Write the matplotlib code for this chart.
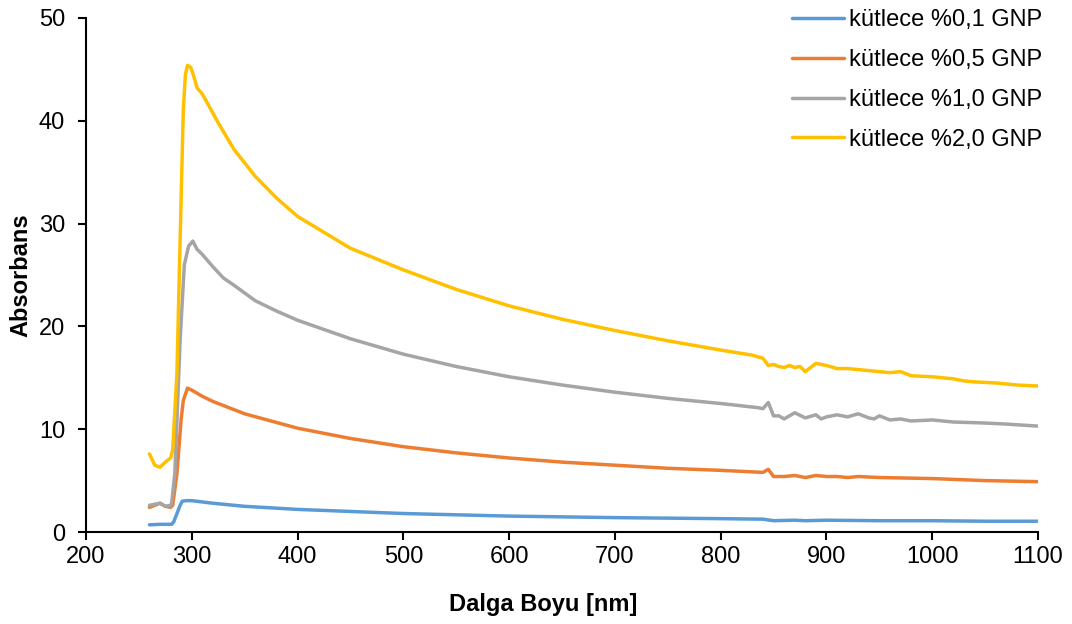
import matplotlib
matplotlib.use("Agg")
import matplotlib.pyplot as plt

plt.rcParams["font.family"] = ["Liberation Sans", "DejaVu Sans"]

# ── data (wavelength nm, absorbance) ──
x_01 = [260, 270, 281, 283, 286, 289, 291, 295, 300, 320, 350, 400, 500, 600, 700, 800, 840,
        850, 870, 880, 900, 950, 1000, 1050, 1100]
y_01 = [0.7, 0.75, 0.75, 1.0, 1.8, 2.6, 3.0, 3.05, 3.05, 2.8, 2.5, 2.2, 1.8, 1.55, 1.4, 1.3, 1.25,
        1.1, 1.15, 1.1, 1.15, 1.1, 1.1, 1.05, 1.05]

x_05 = [260, 265, 270, 275, 280, 282, 286, 290, 292, 296, 300, 305, 310, 320, 350, 400, 450,
        500, 550, 600, 650, 700, 750, 800, 840, 845, 850, 860, 870, 880, 890, 900, 910,
        920, 930, 950, 1000, 1050, 1100]
y_05 = [2.4, 2.6, 2.8, 2.5, 2.4, 2.6, 5.7, 11.0, 12.8, 14.0, 13.8, 13.5, 13.2, 12.7, 11.5, 10.1, 9.1,
        8.3, 7.7, 7.2, 6.8, 6.5, 6.2, 6.0, 5.8, 6.1, 5.4, 5.4, 5.5, 5.3, 5.5, 5.4, 5.4,
        5.3, 5.4, 5.3, 5.2, 5.0, 4.9]

x_10 = [260, 265, 270, 275, 280, 281, 284, 289, 293, 297, 301, 305, 310, 320, 330, 340,
        360, 380, 400, 450, 500, 550, 600, 650, 700, 750, 800, 835, 840, 845, 850, 855,
        860, 865, 870, 880, 890, 895, 900, 910, 920, 930, 940, 945, 950, 960, 970, 980,
        1000, 1020, 1050, 1070, 1100]
y_10 = [2.6, 2.7, 2.8, 2.5, 2.6, 2.8, 5.7, 18.7, 26.0, 27.8, 28.3, 27.5, 27.0, 25.8, 24.7, 24.0,
        22.5, 21.5, 20.6, 18.8, 17.3, 16.1, 15.1, 14.3, 13.6, 13.0, 12.5, 12.1, 12.0, 12.6, 11.3, 11.3,
        11.0, 11.3, 11.6, 11.1, 11.4, 11.0, 11.2, 11.4, 11.2, 11.5, 11.1, 11.0, 11.3, 10.9, 11.0, 10.8,
        10.9, 10.7, 10.6, 10.5, 10.3]

x_20 = [260, 265, 270, 275, 280, 282, 286, 289, 292, 294, 296, 299, 302, 305, 310, 317, 325,
        340, 360, 380, 400, 450, 500, 550, 600, 650, 700, 750, 800, 830, 840, 845, 850, 855,
        860, 865, 870, 875, 880, 885, 890, 900, 910, 920, 940, 960, 970, 980, 1000, 1020,
        1030, 1040, 1060, 1080, 1100]
y_20 = [7.6, 6.5, 6.3, 6.8, 7.2, 8.0, 15.5, 28.4, 41.0, 44.5, 45.4, 45.2, 44.3, 43.2, 42.6, 41.3, 39.8,
        37.2, 34.6, 32.5, 30.7, 27.6, 25.5, 23.6, 22.0, 20.7, 19.6, 18.6, 17.7, 17.2, 16.9, 16.2, 16.3, 16.1,
        16.0, 16.2, 16.0, 16.1, 15.6, 16.0, 16.4, 16.2, 15.9, 15.9, 15.7, 15.5, 15.6, 15.2, 15.1, 14.9,
        14.7, 14.6, 14.5, 14.3, 14.2]

labels = ["kütlece %0,1 GNP", "kütlece %0,5 GNP", "kütlece %1,0 GNP", "kütlece %2,0 GNP"]
colors = ["#5B9BD5", "#ED7D31", "#A5A5A5", "#FFC000"]

fig = plt.figure(figsize=(10.72, 6.24), dpi=100)
ax = fig.add_axes([0.0802, 0.1474, 0.9683 - 0.0802, 0.9712 - 0.1474])

for xs, ys, lab, c in zip([x_01, x_05, x_10, x_20], [y_01, y_05, y_10, y_20], labels, colors):
    ax.plot(xs, ys, color=c, lw=2.5, label=lab, solid_capstyle="round", solid_joinstyle="round")

ax.set_xlim(200, 1100)
ax.set_ylim(0, 50)
ax.set_xticks(range(200, 1101, 100))
ax.set_yticks(range(0, 51, 10))
ax.tick_params(labelsize=17, width=1.5, length=6, color="black")
ax.tick_params(axis="y", pad=9)
ax.tick_params(axis="x", pad=4)
for side in ["top", "right"]:
    ax.spines[side].set_visible(False)
for side in ["left", "bottom"]:
    ax.spines[side].set_linewidth(1.5)

ax.set_xlabel("Dalga Boyu [nm]", fontsize=17, fontweight="bold")
ax.xaxis.set_label_coords(0.48, -0.119)
ax.set_ylabel("Absorbans", fontsize=17, fontweight="bold")
ax.yaxis.set_label_coords(-0.056, 0.5)

ax.legend(loc="upper right", bbox_to_anchor=(0.981, 1.0), bbox_transform=fig.transFigure,
          frameon=False, fontsize=17, handlelength=2.2, labelspacing=0.75, handletextpad=0.2,
          borderaxespad=0.0)

fig.savefig("out.png", dpi=100)
